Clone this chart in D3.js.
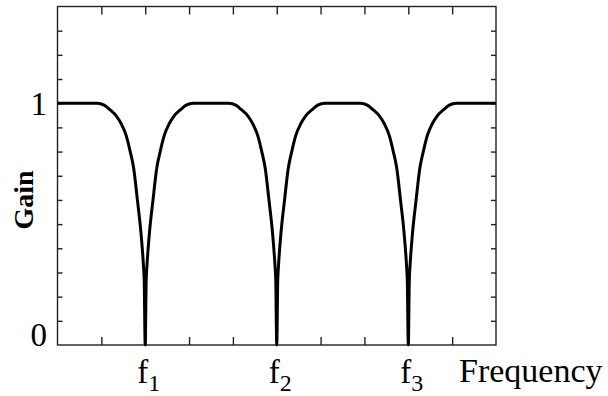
<!DOCTYPE html>
<html>
<head>
<meta charset="utf-8">
<script src="https://cdn.jsdelivr.net/npm/d3@7"></script>
<style>
  html, body { margin: 0; padding: 0; background: #fff; }
  svg { display: block; }
  text { font-family: "Liberation Serif", "Times New Roman", serif; fill: #000; }
</style>
</head>
<body>
<svg id="chart" width="608" height="396"></svg>
<script>
// Notch-filter gain response: three notches at f1, f2, f3
const frequency = [
  0,
  0.905, 1.065, 1.202, 1.339, 1.453, 1.567, 1.658, 1.738, 1.822, 1.904, 1.961, 1.977, 2,
  2.023, 2.039, 2.096, 2.178, 2.262, 2.342, 2.433, 2.547, 2.661, 2.798, 2.935, 3.095,
  3.905, 4.065, 4.202, 4.339, 4.453, 4.567, 4.658, 4.738, 4.822, 4.904, 4.961, 4.977, 5,
  5.023, 5.039, 5.096, 5.178, 5.262, 5.342, 5.433, 5.547, 5.661, 5.798, 5.935, 6.095,
  6.905, 7.065, 7.202, 7.339, 7.453, 7.567, 7.658, 7.738, 7.822, 7.904, 7.961, 7.977, 8,
  8.023, 8.039, 8.096, 8.178, 8.262, 8.342, 8.433, 8.547, 8.661, 8.798, 8.935, 9.095,
  10
];
const gain = [
  1,
  1, 0.992, 0.972, 0.948, 0.915, 0.866, 0.8, 0.73, 0.6, 0.463, 0.325, 0.27, 0,
  0.27, 0.325, 0.463, 0.6, 0.73, 0.8, 0.866, 0.915, 0.948, 0.972, 0.992, 1,
  1, 0.992, 0.972, 0.948, 0.915, 0.866, 0.8, 0.73, 0.6, 0.463, 0.325, 0.27, 0,
  0.27, 0.325, 0.463, 0.6, 0.73, 0.8, 0.866, 0.915, 0.948, 0.972, 0.992, 1,
  1, 0.992, 0.972, 0.948, 0.915, 0.866, 0.8, 0.73, 0.6, 0.463, 0.325, 0.27, 0,
  0.27, 0.325, 0.463, 0.6, 0.73, 0.8, 0.866, 0.915, 0.948, 0.972, 0.992, 1,
  1
];

// Axis ticks and labels
const xTicks = [1, 2, 3, 4, 5, 6, 7, 8, 9];
const yTicks = [0.1, 0.2, 0.3, 0.4, 0.5, 0.6, 0.7, 0.8, 0.9, 1.0, 1.1, 1.2, 1.3];
const notchPositions = [2, 5, 8];
const notchSubscripts = ["1", "2", "3"];
const yLabelValues = [0, 1];
const xAxisTitle = "Frequency";
const yAxisTitle = "Gain";

const svg = d3.select("#chart");
const m = { left: 57.5, right: 496, top: 6.5, bottom: 345 };

const x = d3.scaleLinear().domain([0, 10]).range([m.left, m.right]);
const y = d3.scaleLinear().domain([0, 1.4]).range([m.bottom, m.top]);

const frameColor = "#222";
const frameWidth = 1.4;

// Ticks: inside on all four sides
const axisBottom = d3.axisBottom(x).tickValues(xTicks).tickSizeInner(-8).tickSizeOuter(0).tickFormat("");
const axisTop = d3.axisTop(x).tickValues(xTicks).tickSizeInner(-8).tickSizeOuter(0).tickFormat("");
const axisLeft = d3.axisLeft(y).tickValues(yTicks).tickSizeInner(-5).tickSizeOuter(0).tickFormat("");
const axisRight = d3.axisRight(y).tickValues(yTicks).tickSizeInner(-5).tickSizeOuter(0).tickFormat("");

function styleAxis(g) {
  g.select(".domain").remove();
  g.selectAll(".tick line").attr("stroke", frameColor).attr("stroke-width", frameWidth);
}

svg.append("g").attr("transform", `translate(0,${m.bottom})`).call(axisBottom).call(styleAxis);
svg.append("g").attr("transform", `translate(0,${m.top})`).call(axisTop).call(styleAxis);
svg.append("g").attr("transform", `translate(${m.left},0)`).call(axisLeft).call(styleAxis);
svg.append("g").attr("transform", `translate(${m.right},0)`).call(axisRight).call(styleAxis);

// Plot frame
svg.append("rect")
  .attr("x", m.left).attr("y", m.top)
  .attr("width", m.right - m.left).attr("height", m.bottom - m.top)
  .attr("fill", "none").attr("stroke", frameColor).attr("stroke-width", frameWidth);

// Gain curve
const pts = frequency.map((f, i) => [f, gain[i]]);
const line = d3.line().x(d => x(d[0])).y(d => y(d[1])).curve(d3.curveMonotoneX);
svg.append("path")
  .datum(pts)
  .attr("d", line)
  .attr("fill", "none")
  .attr("stroke", "#000")
  .attr("stroke-width", 3)
  .attr("stroke-linejoin", "round");

// Y value labels
svg.selectAll(".ylab").data(yLabelValues).enter().append("text")
  .attr("class", "ylab")
  .attr("x", 47)
  .attr("y", d => d === 0 ? 346 : y(d) + 12)
  .attr("text-anchor", "end")
  .style("font-size", "33px")
  .text(d => d);

// Notch frequency labels f1, f2, f3
const fl = svg.selectAll(".xlab").data(notchPositions).enter().append("text")
  .attr("class", "xlab")
  .attr("x", d => x(d) - 8)
  .attr("y", 383)
  .style("font-size", "33px");
fl.append("tspan").text("f");
fl.append("tspan")
  .attr("dy", 8)
  .style("font-size", "24px")
  .text((d, i) => notchSubscripts[i]);

// Axis titles
svg.append("text")
  .attr("x", 459)
  .attr("y", 382)
  .style("font-size", "34px")
  .text(xAxisTitle);

svg.append("text")
  .attr("transform", "translate(33,200) rotate(-90)")
  .attr("text-anchor", "middle")
  .style("font-size", "28px")
  .style("font-weight", "bold")
  .text(yAxisTitle);
</script>
</body>
</html>
